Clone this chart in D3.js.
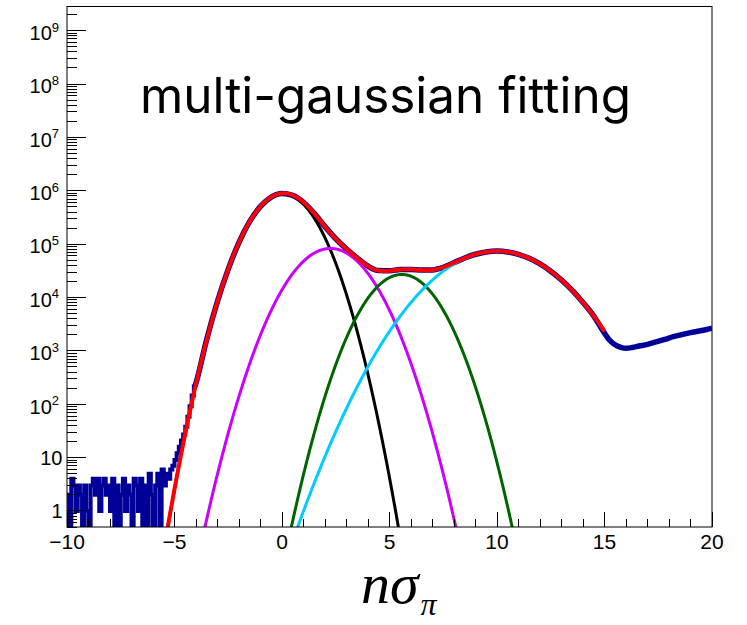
<!DOCTYPE html>
<html><head><meta charset="utf-8">
<script src="https://cdn.jsdelivr.net/npm/d3@7"></script>
<style>html,body{margin:0;padding:0;background:#fff;} svg{display:block;}</style>
</head><body><svg id="c" width="747" height="625"></svg>
<script>
// ---------- data ----------
const xTickValues = [-10, -5, 0, 5, 10, 15, 20];
const xTickLabels = ["\u221210", "\u22125", "0", "5", "10", "15", "20"];
const yDecadeExponents = [0, 1, 2, 3, 4, 5, 6, 7, 8, 9];
const xDomain = [-10, 20];
const yDomain = [0.5, 2.84e9];

// histogram (left tail, bin width 0.1, first bin starts at -10)
const noiseBinStart = -10;
const noiseBinWidth = 0.1;
const noiseCounts = [2,0,4,3,1,3,2,0,3,1, 0,3,4,2,4,1,3,4,2,3,
                     1,4,0,3,0,2,4,1,3,2, 0,4,3,1,4,0,3,0,5,2,
                     0,3,5,0,6,3,5,4,6,7, 9,12,16,21,27,38,58,92,145,215];

// histogram (main region)
const dataX = [-4.0,-3.5,-3.0,-2.5,-2.0,-1.5,-1.0,-0.5,0.0,0.5,1.0,1.5,2.0,2.5,3.0,3.5,4.0,4.5,5.0,5.5,6.0,6.5,7.0,7.5,8.0,8.5,9.0,9.5,10.0,10.5,11.0,11.5,12.0,12.5,13.0,13.5,14.0,14.5,15.0,15.2,15.4,15.6,15.8,16.0,16.3,16.6,17.0,17.4,17.8,18.2,18.6,19.0,19.4,19.7,20.0];
const dataY = [250,1650,8500,34000,108000,266000,509000,763000,893000,823000,608000,376000,213000,126000,81200,54900,38700,31900,31600,33500,33600,32600,32900,36900,44900,55000,64600,71500,74000,71500,64400,54200,42500,31100,21300,13600,8070,4490,2150,1650,1380,1230,1150,1120,1160,1230,1320,1470,1640,1840,2020,2200,2350,2480,2650];

// gaussian components of the fit
const compAmplitude = [8.8e5, 8.3e4, 2.7e4, 7.4e4];
const compMean      = [0.05, 2.25, 5.57, 10.0];
const compSigma     = [1.0, 1.19, 1.1, 1.9];
const fitRange = [-10, 15.0];

const titleText = "multi-gaussian fitting";

// ---------- styles / layout ----------
const compColors = ["#000000", "#cc00ff", "#006400", "#00ccff"];
const dataColor = "#000099", fitColor = "#ff0000";
const L = 67, R = 712, T = 6.5, B = 527;

const svg = d3.select("#c");
const x = d3.scaleLinear().domain(xDomain).range([L, R]);
const y = d3.scaleLog().domain(yDomain).range([B, T]);

svg.append("defs").append("clipPath").attr("id", "clip")
  .append("rect").attr("x", L).attr("y", T).attr("width", R - L).attr("height", B - T);
const plot = svg.append("g").attr("clip-path", "url(#clip)");

const yv = v => v > 0 ? y(v) : B + 20;

// histogram tail (steps)
const noisePts = noiseCounts.map((c, i) => [noiseBinStart + (i + 0.5) * noiseBinWidth, c]);
const stepPts = [[noiseBinStart - 0.05, noiseCounts[0]], ...noisePts];
plot.append("path")
  .attr("d", d3.line().x(d => x(d[0])).y(d => yv(d[1])).curve(d3.curveStep)(stepPts))
  .attr("fill", "none").attr("stroke", dataColor).attr("stroke-width", 4);

// histogram main
const mainPts = [[-4.05, 215], ...dataX.map((d, i) => [d, dataY[i]])];
plot.append("path")
  .attr("d", d3.line().x(d => x(d[0])).y(d => y(d[1])).curve(d3.curveMonotoneX)(mainPts))
  .attr("fill", "none").attr("stroke", dataColor).attr("stroke-width", 5.5)
  .attr("stroke-linejoin", "round");

// components
const gauss = (k, t) => compAmplitude[k] * Math.exp(-((t - compMean[k]) ** 2) / (2 * compSigma[k] ** 2));
const grid = d3.range(fitRange[0], fitRange[1] + 1e-9, 0.02);
const fline = d3.line().x(d => x(d[0])).y(d => Math.min(B + 30, y(Math.max(d[1], 1e-3))));
compAmplitude.forEach((a, k) => {
  plot.append("path")
    .attr("d", fline(grid.map(t => [t, gauss(k, t)])))
    .attr("fill", "none").attr("stroke", compColors[k]).attr("stroke-width", 3);
});
// total fit
plot.append("path")
  .attr("d", fline(grid.map(t => [t, compAmplitude.reduce((s, _, k) => s + gauss(k, t), 0)])))
  .attr("fill", "none").attr("stroke", fitColor).attr("stroke-width", 4);

// ---------- axes ----------
const ax = svg.append("g").attr("stroke", "#000");
// frame
ax.append("rect").attr("x", L).attr("y", T).attr("width", R - L).attr("height", B - T)
  .attr("fill", "none").attr("stroke", "#000").attr("stroke-width", 1);

// x ticks
d3.range(-10, 20.001, 1).forEach(v => {
  const major = Math.abs(v % 5) < 1e-9;
  ax.append("line").attr("x1", x(v)).attr("x2", x(v)).attr("y1", B).attr("y2", B - (major ? 15.5 : 7.8)).attr("stroke-width", 1);
});
xTickValues.forEach((v, i) => {
  svg.append("text").attr("x", x(v)).attr("y", 548.5).attr("text-anchor", "middle")
    .attr("font-family", "Liberation Sans, Arial, sans-serif").attr("font-size", 21).text(xTickLabels[i]);
});

// y ticks
yDecadeExponents.forEach(e => {
  const v = Math.pow(10, e);
  ax.append("line").attr("x1", L).attr("x2", L + 19.4).attr("y1", y(v)).attr("y2", y(v)).attr("stroke-width", 1);
});
for (let e = -1; e <= 9; e++) {
  for (let m = 2; m <= 9; m++) {
    const v = m * Math.pow(10, e);
    if (v < yDomain[0] || v > yDomain[1]) continue;
    ax.append("line").attr("x1", L).attr("x2", L + 9.7).attr("y1", y(v)).attr("y2", y(v)).attr("stroke-width", 1);
  }
}
ax.selectAll("line").attr("shape-rendering", "crispEdges");
const font = "Liberation Sans, Arial, sans-serif";
yDecadeExponents.forEach(e => {
  const yy = y(Math.pow(10, e));
  if (e <= 1) {
    svg.append("text").attr("x", 62.5).attr("y", yy + 7.3).attr("text-anchor", "end")
      .attr("font-family", font).attr("font-size", 20).text(e === 0 ? "1" : "10");
  } else {
    const t = svg.append("text").attr("x", 59).attr("y", yy + 9.3).attr("text-anchor", "end")
      .attr("font-family", font).attr("font-size", 20);
    t.append("tspan").text("10");
    t.append("tspan").attr("font-size", 13).attr("dy", -8.3).text(String(e));
  }
});

// title
svg.append("text").attr("x", 140).attr("y", 113).attr("font-family", "Inter, sans-serif")
  .attr("font-size", 49.4).attr("fill", "#000").text(titleText);

// axis title
const at = svg.append("text").attr("x", 361).attr("y", 603)
  .attr("font-family", "Liberation Serif, Times New Roman, serif").attr("font-style", "italic").attr("font-size", 58);
at.append("tspan").text("n\u03c3");
at.append("tspan").attr("font-size", 32).attr("dy", 12).attr("dx", 2).text("\u03c0");
</script></body></html>
